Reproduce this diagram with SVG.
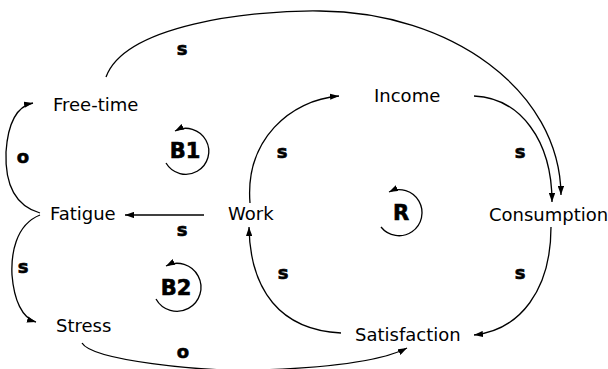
<svg xmlns="http://www.w3.org/2000/svg" width="608" height="369" viewBox="0 0 608 369">
<style>
.node{font-family:"DejaVu Sans",Verdana,sans-serif;font-size:18px;fill:#000}
.lbl{font-family:"DejaVu Sans",Verdana,sans-serif;font-size:18px;font-weight:bold;fill:#000;text-anchor:middle;stroke:#000;stroke-width:0.6}
.loop{font-family:"DejaVu Sans",Verdana,sans-serif;font-size:21px;font-weight:bold;fill:#000;text-anchor:middle;stroke:#000;stroke-width:0.6}
.c{fill:none;stroke:#000;stroke-width:1.3}
</style>
<defs>
<marker id="ah" viewBox="0 0 10 7" refX="10" refY="3.5" markerWidth="9" markerHeight="6.5" orient="auto" markerUnits="userSpaceOnUse">
<path d="M0,0 L10,3.5 L0,7 z" fill="#000"/>
</marker>
</defs>
<rect width="608" height="369" fill="#fff"/>
<g id="connectors">
<path class="c" marker-end="url(#ah)" d="M106,77 C125,25 250,10 320,11 C450,12 560,90 561,195"/>
<path class="c" marker-end="url(#ah)" d="M474,96 C520,98 552,140 552,202"/>
<path class="c" marker-end="url(#ah)" d="M250,203 C245,140 290,100 339,96"/>
<path class="c" marker-end="url(#ah)" d="M341,333 C280,330 250,290 249,227"/>
<path class="c" marker-end="url(#ah)" d="M551,227 C551,290 520,330 474,335"/>
<path class="c" marker-end="url(#ah)" d="M204,215 L125,215"/>
<path class="c" marker-end="url(#ah)" d="M40,213 C12,205 5,180 6,152 C8,122 18,106 33,103"/>
<path class="c" marker-end="url(#ah)" d="M40,215 C15,225 11,255 12,275 C14,300 22,318 36,322"/>
<path class="c" marker-end="url(#ah)" d="M82,343 C92,360 200,372 260,370 C320,368 380,362 407,348"/>
</g>
<g id="free-time"><text class="node" x="53" y="111">Free-time</text></g>
<g id="income"><text class="node" x="374" y="102">Income</text></g>
<g id="work"><text class="node" x="228" y="220">Work</text></g>
<g id="fatigue"><text class="node" x="50" y="220">Fatigue</text></g>
<g id="consumption"><text class="node" x="489" y="221">Consumption</text></g>
<g id="stress"><text class="node" x="56" y="332">Stress</text></g>
<g id="satisfaction"><text class="node" x="355" y="341">Satisfaction</text></g>
<g id="labels">
<text class="lbl" x="182" y="55">s</text>
<text class="lbl" x="23" y="163">o</text>
<text class="lbl" x="23" y="273">s</text>
<text class="lbl" x="182" y="236">s</text>
<text class="lbl" x="183" y="358">o</text>
<text class="lbl" x="282" y="158">s</text>
<text class="lbl" x="283" y="279">s</text>
<text class="lbl" x="520" y="158">s</text>
<text class="lbl" x="520" y="279">s</text>
</g>
<g id="loop-b1">
<path class="c" marker-end="url(#ah)" d="M166,163 A23,23 0 1 0 175,131"/>
<text class="loop" x="185" y="158">B1</text>
</g>
<g id="loop-b2">
<path class="c" marker-end="url(#ah)" d="M156,299 A24,24 0 1 0 166,266"/>
<text class="loop" x="176" y="295">B2</text>
</g>
<g id="loop-r">
<path class="c" marker-end="url(#ah)" d="M381,227 A23,23 0 1 0 389,192"/>
<text class="loop" x="401" y="220">R</text>
</g>
</svg>
